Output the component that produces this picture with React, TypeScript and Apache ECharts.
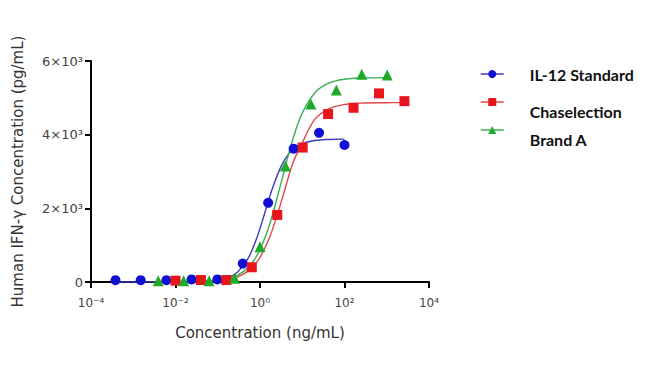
import React, { useEffect, useRef } from 'react';
import * as echarts from 'echarts';

// ---- measured points ----
const stdConc = [0.00038, 0.0015, 0.0061, 0.024, 0.098, 0.39, 1.56, 6.25, 25, 100];
const stdResp = [50, 50, 50, 70, 70, 500, 2150, 3620, 4050, 3720];

const chaseConc = [0.01, 0.04, 0.16, 0.64, 2.56, 10.24, 40.96, 163.84, 655.36, 2621.44];
const chaseResp = [36, 54, 54, 400, 1820, 3650, 4560, 4730, 5120, 4910];

const brandConc = [0.0039, 0.0156, 0.0625, 0.25, 1, 4, 16, 64, 256, 1024];
const brandResp = [36, 36, 36, 100, 960, 3150, 4830, 5210, 5640, 5620];

// ---- fitted curves ----
const stdCurveX = [0.00038, 0.01, 0.1, 0.2, 0.3, 0.5, 0.7, 1, 1.5, 2, 3, 4, 6, 10, 20, 40, 100];
const stdCurveY = [0, 2, 46, 145, 280, 605, 955, 1455, 2115, 2565, 3085, 3350, 3595, 3755, 3840, 3870, 3880];

const chaseCurveX = [0.01, 0.1, 0.2, 0.3, 0.5, 0.7, 1, 1.5, 2, 3, 4, 6, 10, 20, 40, 100, 300, 1000, 2600];
const chaseCurveY = [1, 30, 80, 140, 280, 430, 670, 1070, 1445, 2080, 2565, 3230, 3780, 4420, 4690, 4820, 4860, 4868, 4870];

const brandCurveX = [0.0039, 0.1, 0.2, 0.3, 0.5, 0.7, 1, 1.5, 2, 3, 4, 6, 10, 20, 40, 100, 300, 1000];
const brandCurveY = [0, 42, 108, 188, 370, 570, 880, 1385, 1845, 2595, 3150, 3880, 4585, 5140, 5385, 5505, 5540, 5548];

const seriesNames = ['IL-12 Standard', 'Chaselection', 'Brand A'];
const xTickExps = [-4, -2, 0, 2, 4];
const xTickLabels = ['10⁻⁴', '10⁻²', '10⁰', '10²', '10⁴'];
const yTickValues = [0, 2000, 4000, 6000];
const yTickLabels = ['0', '2×10³', '4×10³', '6×10³'];

const markerColors = ['#1010d4', '#e8161c', '#1faa2a'];
const lineColors = ['#3c3cb8', '#e04848', '#3cae58'];
const symbols = ['circle', 'rect', 'triangle'];
const symbolSizes = [10, 10, 11];

const zip = (a: number[], b: number[]) => a.map((v, i) => [v, b[i]]);

export default function App() {
  const ref = useRef<HTMLDivElement>(null);
  useEffect(() => {
    const chart = echarts.init(ref.current!, null, { renderer: 'svg' });
    const pts = [zip(stdConc, stdResp), zip(chaseConc, chaseResp), zip(brandConc, brandResp)];
    const curves = [
      zip(stdCurveX, stdCurveY),
      zip(chaseCurveX, chaseCurveY),
      zip(brandCurveX, brandCurveY),
    ];
    const series: any[] = [];
    curves.forEach((c, i) => {
      series.push({
        name: seriesNames[i] + ' fit',
        type: 'line',
        data: c,
        smooth: 0.4,
        showSymbol: false,
        symbol: 'none',
        lineStyle: { color: lineColors[i], width: 1.4 },
        z: 2,
      });
    });
    pts.forEach((p, i) => {
      series.push({
        name: seriesNames[i],
        type: 'line',
        data: p,
        symbol: symbols[i],
        symbolSize: symbolSizes[i],
        showAllSymbol: true,
        itemStyle: { color: markerColors[i] },
        lineStyle: { opacity: 0, width: 0 },
        z: 3,
      });
    });
    const iconY = [74, 102, 130];
    const shifted = [false, true, true];
    const legends = seriesNames.map((n, i) => ({
      data: [{ name: n, lineStyle: { color: lineColors[i], width: 1.5, opacity: 1 } }],
      left: 475,
      top: iconY[i] - (shifted[i] ? 23 : 14),
      itemWidth: 23,
      itemHeight: 10,
      selectedMode: false,
      formatter: (name: string) => (shifted[i] ? '\n' + name : name),
      textStyle: {
        fontFamily: 'Lato',
        fontWeight: 'bold',
        fontSize: 16,
        lineHeight: 18,
        color: '#111',
        padding: [0, 0, 0, 21],
      },
    }));
    chart.setOption({
      animation: false,
      backgroundColor: '#fff',
      grid: { left: 91, right: 221, top: 61, bottom: 88, containLabel: false },
      legend: legends,
      xAxis: {
        type: 'log',
        logBase: 10,
        min: 0.0001,
        max: 10000,
        interval: 2,
        name: 'Concentration (ng/mL)',
        nameLocation: 'middle',
        nameGap: 43,
        nameTextStyle: { fontFamily: 'DejaVu Sans', fontSize: 15, color: '#333' },
        axisLine: { onZero: false, lineStyle: { color: '#000', width: 2 } },
        axisTick: { length: 6, lineStyle: { color: '#000', width: 2 } },
        minorTick: { show: false },
        splitLine: { show: false },
        axisLabel: {
          fontFamily: 'DejaVu Sans',
          fontSize: 12,
          color: '#444',
          margin: 15,
          formatter: (v: number) => {
            const e = Math.round(Math.log10(v));
            const idx = xTickExps.indexOf(e);
            return idx >= 0 ? xTickLabels[idx] : '';
          },
        },
      },
      yAxis: {
        type: 'value',
        min: 0,
        max: 6000,
        interval: 2000,
        name: 'Human IFN-γ Concentration (pg/mL)',
        nameLocation: 'middle',
        nameGap: 66,
        nameRotate: 90,
        nameTextStyle: { fontFamily: 'DejaVu Sans', fontSize: 15, color: '#333' },
        axisLine: { show: true, lineStyle: { color: '#000', width: 2 } },
        axisTick: { show: true, length: 6, lineStyle: { color: '#000', width: 2 } },
        splitLine: { show: false },
        axisLabel: {
          fontFamily: 'DejaVu Sans',
          fontSize: 13,
          color: '#444',
          margin: 8,
          formatter: (v: number) => {
            const idx = yTickValues.indexOf(v);
            return idx >= 0 ? yTickLabels[idx] : '';
          },
        },
      },
      series,
    });
    return () => chart.dispose();
  }, []);
  return <div ref={ref} style={{ position: 'fixed', left: 0, top: 0, width: 650, height: 370 }} />;
}
